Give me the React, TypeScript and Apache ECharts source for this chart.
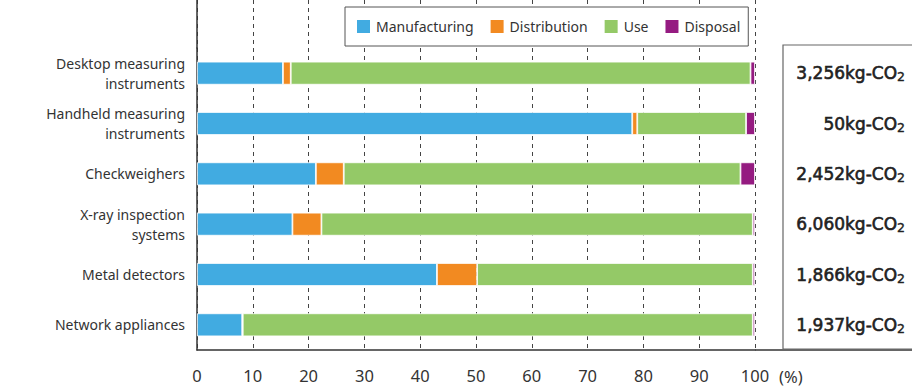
import React, { useEffect, useRef } from "react";
import * as echarts from "echarts";

const categories = [
  "Desktop measuring\ninstruments",
  "Handheld measuring\ninstruments",
  "Checkweighers",
  "X-ray inspection\nsystems",
  "Metal detectors",
  "Network appliances",
];
const manufacturing = [15.4, 78.0, 21.3, 17.1, 43.0, 8.1];
const distribution = [1.4, 0.9, 5.0, 5.2, 7.2, 0.1];
const useStage = [82.4, 19.5, 71.1, 77.3, 49.4, 91.4];
const disposal = [0.8, 1.6, 2.6, 0.4, 0.4, 0.4];
const totals = ["3,256", "50", "2,452", "6,060", "1,866", "1,937"];
const xTicks = [0, 10, 20, 30, 40, 50, 60, 70, 80, 90, 100];

const seriesNames = ["Manufacturing", "Distribution", "Use", "Disposal"];
const seriesColors = ["#41ABE1", "#F28A21", "#94C967", "#951B81"];

const FONT = "Noto Sans";
const TOTAL_FONT = "DejaVu Sans";
const TEXT = "#333";
const GRID_LEFT = 197;
const GRID_RIGHT = 157;

export default function App() {
  const ref = useRef<HTMLDivElement>(null);
  useEffect(() => {
    if (!ref.current) return;
    const chart = echarts.init(ref.current, undefined, { renderer: "svg" });
    const dataSets = [manufacturing, distribution, useStage, disposal];
    const splitLine = {
      show: true,
      lineStyle: { type: [4, 4] as any, color: "#444", width: 1 },
    };
    chart.setOption({
      animation: false,
      textStyle: { fontFamily: FONT },
      legend: {
        left: 345,
        top: 7,
        data: seriesNames,
        icon: "rect",
        itemWidth: 15,
        itemHeight: 15,
        itemGap: 15,
        padding: [11, 8, 11, 10],
        backgroundColor: "#fff",
        borderColor: "#555",
        borderWidth: 1,
        textStyle: { fontSize: 14, color: TEXT, fontFamily: FONT },
        selectedMode: false,
      },
      grid: [
        { left: GRID_LEFT, right: GRID_RIGHT, top: 48, height: 302 },
        { left: GRID_LEFT, right: GRID_RIGHT, top: 0, height: 48 },
      ],
      xAxis: [
        {
          type: "value",
          gridIndex: 0,
          min: xTicks[0],
          max: xTicks[xTicks.length - 1],
          interval: 10,
          axisLine: { show: true, lineStyle: { color: TEXT, width: 1.5 } },
          axisTick: { show: false },
          axisLabel: { color: TEXT, fontSize: 16.5, margin: 17, fontFamily: FONT },
          splitLine,
        },
        {
          type: "value",
          gridIndex: 1,
          min: xTicks[0],
          max: xTicks[xTicks.length - 1],
          interval: 10,
          axisLine: { show: false },
          axisTick: { show: false },
          axisLabel: { show: false },
          splitLine,
        },
      ],
      yAxis: [
        {
          type: "category",
          gridIndex: 0,
          data: categories,
          inverse: true,
          axisLine: { show: true, lineStyle: { color: TEXT, width: 1.5 } },
          axisTick: { show: false },
          axisLabel: {
            color: TEXT,
            fontSize: 14,
            lineHeight: 20,
            margin: 12,
            align: "right",
            fontFamily: FONT,
          },
        },
        {
          type: "category",
          gridIndex: 0,
          position: "right",
          data: categories,
          inverse: true,
          axisLine: { show: false },
          axisTick: { show: false },
          axisLabel: {
            margin: 150,
            align: "right",
            formatter: (_v: string, i: number) => `{a|${totals[i]}kg-CO}{b|2}`,
            rich: {
              a: {
                fontSize: 17,
                lineHeight: 20,
                color: "#222",
                fontFamily: TOTAL_FONT,
                textBorderColor: "#222",
                textBorderWidth: 0.6,
              },
              b: {
                fontSize: 12.5,
                lineHeight: 14,
                color: "#222",
                fontFamily: TOTAL_FONT,
                verticalAlign: "bottom",
                textBorderColor: "#222",
                textBorderWidth: 0.4,
              },
            },
          },
        },
        {
          type: "value",
          gridIndex: 1,
          axisLine: { show: true, lineStyle: { color: TEXT, width: 1.5 } },
          axisTick: { show: false },
          axisLabel: { show: false },
          splitLine: { show: false },
        },
      ],
      series: seriesNames.map((name, k) => ({
        name,
        type: "bar",
        stack: "total",
        xAxisIndex: 0,
        yAxisIndex: 0,
        barWidth: 23,
        data: dataSets[k],
        itemStyle: { color: seriesColors[k], borderColor: "#fff", borderWidth: 0.8 },
      })),
      graphic: [
        {
          type: "rect",
          shape: { x: 783, y: 45, width: 140, height: 304 },
          style: { fill: "none", stroke: "#666", lineWidth: 1.2 },
          z: 10,
        },
        {
          type: "line",
          shape: { x1: 912 - GRID_RIGHT, y1: 350, x2: 912, y2: 350 },
          style: { stroke: TEXT, lineWidth: 1.5 },
        },
        {
          type: "text",
          x: 779,
          y: 368,
          style: {
            text: "(%)",
            fontSize: 16.5,
            fill: TEXT,
            fontFamily: FONT,
          },
        },
      ],
    });
    return () => chart.dispose();
  }, []);
  return (
    <div
      ref={ref}
      style={{ position: "fixed", left: 0, top: 0, width: 912, height: 387, background: "#fff" }}
    />
  );
}
